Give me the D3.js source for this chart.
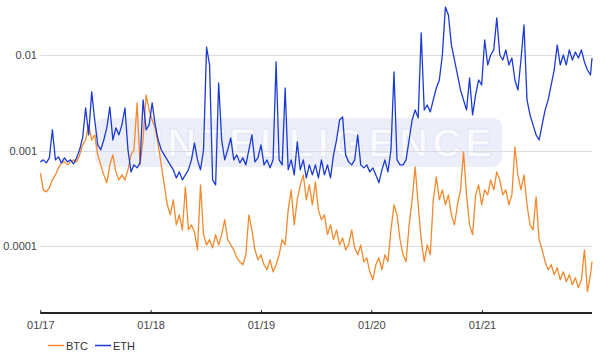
<!DOCTYPE html>
<html><head><meta charset="utf-8">
<script src="https://cdn.jsdelivr.net/npm/d3@7"></script>
<style>body{margin:0;background:#fff}svg{display:block}text{font-family:Arial,"Liberation Sans",sans-serif}</style>
</head><body><svg id="c" width="600" height="358"></svg>
<script>
const seriesNames = ["BTC","ETH"];
const startDate = "2017-01-01";
const endDate = "2021-12-31";
const stepDays = 10;
const yTicks = [0.0001, 0.001, 0.01];
const yTickLabels = ["0.0001","0.001","0.01"];
const xTickDates = ["2017-01-01","2018-01-01","2019-01-01","2020-01-01","2021-01-01"];
const xTickLabels = ["01/17","01/18","01/19","01/20","01/21"];

const eth = [7.62e-4,7.99e-4,7.44e-4,8.39e-4,1.65e-3,7.99e-4,8.59e-4,7.44e-4,8.39e-4,7.62e-4,
7.99e-4,7.26e-4,8.39e-4,1.02e-3,1.36e-3,2.79e-3,1.46e-3,4.11e-3,2.09e-3,1.15e-3,
1.02e-3,1.29e-3,1.73e-3,2.86e-3,1.29e-3,1.73e-3,1.46e-3,1.86e-3,2.79e-3,1.02e-3,
5.99e-4,7.09e-4,6.60e-4,7.44e-4,3.39e-3,1.65e-3,1.86e-3,3.15e-3,1.86e-3,1.29e-3,
1.02e-3,9.02e-4,7.99e-4,7.09e-4,6.29e-4,5.18e-4,5.99e-4,4.94e-4,5.57e-4,6.29e-4,
7.99e-4,1.20e-3,7.99e-4,6.29e-4,1.02e-3,1.21e-2,7.86e-3,4.94e-4,4.38e-4,5.10e-3,
1.29e-3,7.99e-4,1.02e-3,1.36e-3,7.99e-4,9.02e-4,7.44e-4,8.39e-4,7.09e-4,1.02e-3,
1.46e-3,7.62e-4,8.39e-4,1.15e-3,7.09e-4,7.99e-4,6.60e-4,7.99e-4,8.45e-3,7.99e-4,
7.09e-4,4.52e-3,6.29e-4,7.99e-4,5.57e-4,1.23e-3,6.29e-4,7.99e-4,5.18e-4,7.09e-4,
5.57e-4,7.09e-4,5.18e-4,7.99e-4,5.57e-4,7.09e-4,5.18e-4,9.02e-4,1.29e-3,2.09e-3,
2.25e-3,9.02e-4,7.62e-4,7.09e-4,7.99e-4,1.46e-3,7.09e-4,6.60e-4,7.09e-4,5.99e-4,
6.60e-4,5.57e-4,4.60e-4,6.29e-4,7.99e-4,5.99e-4,1.02e-3,6.64e-3,7.99e-4,7.09e-4,
7.09e-4,7.99e-4,1.29e-3,2.09e-3,2.66e-3,2.20e-3,1.70e-2,2.66e-3,3.00e-3,2.54e-3,
3.39e-3,4.52e-3,5.48e-3,1.00e-2,3.17e-2,2.62e-2,1.27e-2,8.87e-3,6.18e-3,4.31e-3,
3.39e-3,2.66e-3,5.75e-3,2.36e-3,3.82e-3,5.48e-3,4.86e-3,1.435e-2,7.86e-3,1.00e-2,
1.13e-2,2.44e-2,1.00e-2,8.87e-3,1.13e-2,7.86e-3,9.30e-3,5.48e-3,4.31e-3,8.87e-3,
2.06e-2,3.39e-3,2.36e-3,1.86e-3,1.46e-3,1.29e-3,1.86e-3,2.66e-3,3.39e-3,4.86e-3,
6.97e-3,1.27e-2,7.86e-3,1.00e-2,7.86e-3,1.13e-2,8.87e-3,1.075e-2,9.30e-3,1.13e-2,
8.45e-3,6.97e-3,6.18e-3,9.30e-3];

const btc = [5.85e-4,3.88e-4,3.70e-4,4.08e-4,4.94e-4,5.57e-4,6.60e-4,7.44e-4,7.62e-4,7.09e-4,
7.62e-4,7.99e-4,7.62e-4,9.02e-4,1.15e-3,1.29e-3,1.86e-3,1.29e-3,1.46e-3,9.02e-4,
7.09e-4,5.57e-4,4.60e-4,7.09e-4,9.02e-4,5.99e-4,4.94e-4,5.57e-4,4.94e-4,6.29e-4,
9.02e-4,1.02e-3,3.15e-3,7.09e-4,1.29e-3,3.82e-3,2.66e-3,2.09e-3,1.73e-3,1.15e-3,
7.09e-4,4.38e-4,2.71e-4,2.13e-4,3.05e-4,1.67e-4,2.13e-4,1.48e-4,4.18e-4,1.48e-4,
1.67e-4,1.41e-4,9.17e-5,4.38e-4,1.32e-4,1.03e-4,1.17e-4,9.62e-5,1.32e-4,1.03e-4,
1.32e-4,1.89e-4,1.17e-4,1.03e-4,9.17e-5,7.56e-5,6.87e-5,6.39e-5,8.13e-5,2.13e-4,
1.48e-4,9.17e-5,7.21e-5,8.13e-5,6.39e-5,5.67e-5,7.21e-5,5.40e-5,6.39e-5,8.13e-5,
1.17e-4,1.03e-4,2.40e-4,3.88e-4,1.67e-4,3.05e-4,4.38e-4,5.57e-4,3.05e-4,4.38e-4,
2.71e-4,4.71e-4,2.40e-4,1.89e-4,2.13e-4,1.32e-4,1.67e-4,1.17e-4,1.48e-4,1.03e-4,
1.22e-4,9.17e-5,1.03e-4,1.48e-4,9.62e-5,8.13e-5,1.03e-4,6.87e-5,7.56e-5,5.40e-5,
4.45e-5,6.39e-5,7.56e-5,5.67e-5,8.13e-5,6.87e-5,1.48e-4,2.71e-4,2.13e-4,1.17e-4,
8.13e-5,6.87e-5,1.67e-4,3.05e-4,6.76e-4,2.71e-4,1.17e-4,6.87e-5,1.03e-4,8.13e-5,
3.05e-4,5.31e-4,3.05e-4,3.88e-4,2.71e-4,3.44e-4,2.13e-4,1.67e-4,2.71e-4,3.88e-4,
9.69e-4,3.44e-4,1.67e-4,1.32e-4,3.44e-4,4.38e-4,2.71e-4,3.88e-4,3.44e-4,4.94e-4,
3.88e-4,5.99e-4,4.94e-4,3.44e-4,3.88e-4,2.71e-4,3.44e-4,1.09e-3,5.57e-4,3.88e-4,
5.57e-4,2.71e-4,1.67e-4,1.48e-4,3.28e-4,1.17e-4,9.17e-5,6.87e-5,5.67e-5,6.39e-5,
5.02e-5,5.95e-5,4.45e-5,5.40e-5,4.25e-5,5.02e-5,3.95e-5,4.67e-5,3.68e-5,4.45e-5,
9.17e-5,3.34e-5,5.02e-5,6.87e-5];

const colors = {BTC:"#f5892e", ETH:"#1c3bd4"};

const parse = d3.utcParse("%Y-%m-%d");
const t0 = parse(startDate), t1 = parse(endDate);
const dates = d3.range(eth.length - 1).map(i => d3.utcDay.offset(t0, i * stepDays));
dates.push(t1);

const svg = d3.select("#c");
const left = 40.3, right = 592, axisY = 313;
const x = d3.scaleUtc().domain([t0, t1]).range([left, right]);
const y = d3.scaleLog().domain([2e-5, 1e-2]).range([axisY, 55]);

svg.append("rect").attr("width",600).attr("height",358).attr("fill","#fff");

// watermark
const wm = svg.append("g");
wm.append("rect").attr("x",95).attr("y",118).attr("width",407).attr("height",49).attr("rx",9)
  .attr("fill","#eceefa");
wm.append("text").attr("x",152).attr("y",157).attr("textLength",340).attr("lengthAdjust","spacing")
  .attr("font-size",40).attr("font-weight","bold").attr("fill","#fbfbff")
  .attr("stroke","#e0e3f6").attr("stroke-width",0.8).text("INTELLIGENCE");

// grid
svg.append("g").selectAll("line").data(yTicks).join("line")
  .attr("x1",left).attr("x2",right).attr("y1",d=>Math.round(y(d))+0.5).attr("y2",d=>Math.round(y(d))+0.5)
  .attr("stroke","#dcdcdc").attr("stroke-width",1);
svg.append("g").selectAll("text").data(yTicks).join("text")
  .attr("x",37).attr("y",d=>y(d)+4).attr("text-anchor","end").attr("font-size",11).attr("fill","#444")
  .text((d,i)=>yTickLabels[i]);

// lines
const line = d3.line().x((d,i)=>x(dates[i])).y(d=>y(d));
[["BTC",btc],["ETH",eth]].forEach(([name,vals])=>{
  svg.append("path").datum(vals).attr("d",line).attr("fill","none")
    .attr("stroke",colors[name]).attr("stroke-width",1.3).attr("stroke-linejoin","round");
});

// x axis
const xg = svg.append("g").attr("transform",`translate(0,${axisY})`);
const xAxis = d3.axisBottom(x).tickValues(xTickDates.map(parse)).tickSize(0)
  .tickFormat((d,i)=>xTickLabels[i]);
xg.call(xAxis);
xg.select(".domain").remove();
xg.append("line").attr("x1",left).attr("x2",right).attr("y1",0).attr("y2",0).attr("stroke","#222").attr("stroke-width",1.8);
xg.selectAll(".tick").append("line").attr("y1",0).attr("y2",-3).attr("stroke","#222").attr("stroke-width",1);
xg.selectAll(".tick text").attr("dy",null).attr("y",15.5).attr("font-size",11).attr("fill","#444")
  .attr("font-family",'Arial,"Liberation Sans",sans-serif');

// legend
const lg = svg.append("g");
const legendPos = [{lx:48, tx:66},{lx:95, tx:113}];
seriesNames.forEach((n,i)=>{
  lg.append("line").attr("x1",legendPos[i].lx).attr("x2",legendPos[i].lx+16).attr("y1",345.5).attr("y2",345.5)
    .attr("stroke",colors[n]).attr("stroke-width",1.5);
  lg.append("text").attr("x",legendPos[i].tx).attr("y",349.5).attr("font-size",11).attr("fill","#333").text(n);
});
</script></body></html>
